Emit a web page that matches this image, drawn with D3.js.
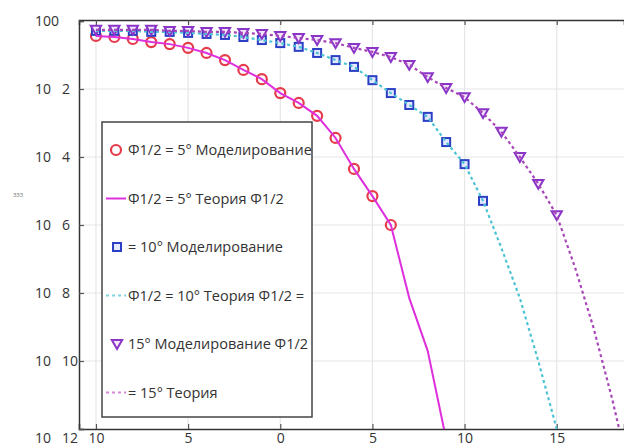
<!DOCTYPE html>
<html>
<head>
<meta charset="utf-8">
<script src="https://cdn.jsdelivr.net/npm/d3@7"></script>
<style>
  body { margin: 0; background: #fff; }
  text { font-family: "Open Sans", "Noto Sans", sans-serif; fill: #333; }
</style>
</head>
<body>
<div class="chart"></div>
<script>
// tick values and labels
const xTicks = [-10, -5, 0, 5, 10, 15];
const xTickLabels = ['10', '5', '0', '5', '10', '15'];
const yTicks = [0, -2, -4, -6, -8, -10, -12];
const yTickBase = ['100', '10', '10', '10', '10', '10', '10'];
const yTickExp = ['', '2', '4', '6', '8', '10', '12'];

// series, y given as log10 of the value
const sim5X = [-10, -9, -8, -7, -6, -5, -4, -3, -2, -1, 0, 1, 2, 3, 4, 5, 6];
const sim5Y = [-0.44, -0.47, -0.53, -0.62, -0.68, -0.79, -0.94, -1.15, -1.44, -1.71, -2.12, -2.41, -2.79, -3.44, -4.35, -5.15, -6.0];
const theory5X = [-10, -9, -8, -7, -6, -5, -4, -3, -2, -1, 0, 1, 2, 3, 4, 5, 6, 7, 8, 9];
const theory5Y = [-0.44, -0.47, -0.53, -0.62, -0.68, -0.79, -0.94, -1.15, -1.44, -1.71, -2.12, -2.41, -2.79, -3.44, -4.35, -5.15, -6.0, -8.15, -9.7, -12.3];

const sim10X = [-10, -9, -8, -7, -6, -5, -4, -3, -2, -1, 0, 1, 2, 3, 4, 5, 6, 7, 8, 9, 10, 11];
const sim10Y = [-0.29, -0.29, -0.29, -0.32, -0.32, -0.35, -0.38, -0.41, -0.47, -0.56, -0.65, -0.76, -0.94, -1.15, -1.35, -1.74, -2.12, -2.47, -2.82, -3.56, -4.21, -5.29];
const theory10X = [-10, -9, -8, -7, -6, -5, -4, -3, -2, -1, 0, 1, 2, 3, 4, 5, 6, 7, 8, 9, 10, 11, 12, 13, 14, 15];
const theory10Y = [-0.29, -0.29, -0.29, -0.32, -0.32, -0.35, -0.38, -0.41, -0.47, -0.56, -0.65, -0.76, -0.94, -1.15, -1.35, -1.74, -2.12, -2.47, -2.82, -3.56, -4.21, -5.29, -6.68, -8.15, -10.0, -12.0];

const sim15X = [-10, -9, -8, -7, -6, -5, -4, -3, -2, -1, 0, 1, 2, 3, 4, 5, 6, 7, 8, 9, 10, 11, 12, 13, 14, 15];
const sim15Y = [-0.26, -0.26, -0.26, -0.26, -0.29, -0.29, -0.32, -0.32, -0.35, -0.38, -0.44, -0.5, -0.56, -0.65, -0.79, -0.91, -1.06, -1.29, -1.65, -1.97, -2.24, -2.71, -3.26, -4.0, -4.79, -5.71];
const theory15X = [-10, -9, -8, -7, -6, -5, -4, -3, -2, -1, 0, 1, 2, 3, 4, 5, 6, 7, 8, 9, 10, 11, 12, 13, 14, 15, 16, 17, 18, 19];
const theory15Y = [-0.26, -0.26, -0.26, -0.26, -0.29, -0.29, -0.32, -0.32, -0.35, -0.38, -0.44, -0.5, -0.56, -0.65, -0.79, -0.91, -1.06, -1.29, -1.65, -1.97, -2.24, -2.71, -3.26, -4.0, -4.79, -5.71, -7.26, -9.03, -11.1, -13.4];

const legendLabels = [
  'Ф1/2 = 5° Моделирование',
  'Ф1/2 = 5° Теория Ф1/2',
  '= 10° Моделирование',
  'Ф1/2 = 10° Теория Ф1/2 =',
  '15° Моделирование Ф1/2',
  '= 15° Теория'
];

const zip = (xs, ys) => xs.map((x, i) => ({x: x, y: ys[i]}));

const width = 624, height = 448;
const plot = {left: 79, right: 624, top: 21, bottom: 429};

const svg = d3.select('.chart').append('svg')
  .attr('width', width)
  .attr('height', height);

const xScale = d3.scaleLinear()
  .domain([-10.92, 18.65])
  .range([plot.left, plot.right]);

const yScale = d3.scaleLog()
  .domain([1e-12, 1])
  .range([plot.bottom, plot.top]);
const yPos = e => yScale(Math.pow(10, e));

svg.append('clipPath').attr('id', 'clip')
  .append('rect')
  .attr('x', plot.left).attr('y', plot.top)
  .attr('width', plot.right - plot.left).attr('height', plot.bottom - plot.top);

//grid
svg.append('g').selectAll('line')
  .data(xTicks)
  .enter().append('line')
  .attr('x1', d => xScale(d)).attr('x2', d => xScale(d))
  .attr('y1', plot.top).attr('y2', plot.bottom)
  .attr('stroke', '#e6e6e6').attr('stroke-width', 1.2);
svg.append('g').selectAll('line')
  .data(yTicks.slice(1, -1))
  .enter().append('line')
  .attr('x1', plot.left).attr('x2', plot.right)
  .attr('y1', d => yPos(d)).attr('y2', d => yPos(d))
  .attr('stroke', '#e6e6e6').attr('stroke-width', 1.2);

//axes
const xAxisB = d3.axisBottom(xScale).tickValues(xTicks).tickSize(-5).tickFormat((d, i) => xTickLabels[i]).tickPadding(4);
const xAxisT = d3.axisTop(xScale).tickValues(xTicks).tickSize(-5).tickFormat('');
const yAxisL = d3.axisLeft(yScale).tickValues(yTicks.map(e => Math.pow(10, e))).tickSize(-5).tickFormat('');

const gB = svg.append('g').attr('transform', `translate(0,${plot.bottom})`).call(xAxisB);
const gT = svg.append('g').attr('transform', `translate(0,${plot.top - 1})`).call(xAxisT);
const gL = svg.append('g').attr('transform', `translate(${plot.left},0)`).call(yAxisL);
[gB, gT, gL].forEach(g => {
  g.select('.domain').attr('stroke', '#333').attr('stroke-width', 1.5);
  g.selectAll('.tick line').attr('stroke', '#555').attr('stroke-width', 1.2);
  g.selectAll('.tick text').attr('font-size', 14).attr('fill', '#333')
    .style('font-family', '"Open Sans", sans-serif');
});

//y tick labels
const yLab = svg.append('g').selectAll('text')
  .data(yTicks)
  .enter().append('text')
  .attr('y', (d, i) => yPos(d) + (i === yTicks.length - 1 ? 9 : 0))
  .attr('dy', '0.35em')
  .attr('font-size', 14);
yLab.append('tspan').attr('x', 35).text((d, i) => yTickBase[i]);
yLab.append('tspan').attr('x', 62).text((d, i) => yTickExp[i]);

svg.append('text')
  .attr('x', 18).attr('y', 197)
  .attr('text-anchor', 'middle')
  .attr('font-size', 7)
  .style('fill', '#888')
  .text('ззз');

//series
const plotArea = svg.append('g').attr('clip-path', 'url(#clip)');
const lineGen = d3.line().x(d => xScale(d.x)).y(d => yPos(d.y));

const tri = d3.symbol().type(d3.symbolTriangle).size(46);

// markers
plotArea.selectAll('.circ')
  .data(zip(sim5X, sim5Y))
  .enter().append('circle')
  .attr('cx', d => xScale(d.x)).attr('cy', d => yPos(d.y))
  .attr('r', 5)
  .attr('fill', 'none').attr('stroke', '#e63b4a').attr('stroke-width', 2.2);

plotArea.selectAll('.sq')
  .data(zip(sim10X, sim10Y))
  .enter().append('rect')
  .attr('x', d => xScale(d.x) - 4).attr('y', d => yPos(d.y) - 4)
  .attr('width', 8).attr('height', 8)
  .attr('fill', '#e4e9ff').attr('stroke', '#2b3fc4').attr('stroke-width', 2);

plotArea.selectAll('.tri')
  .data(zip(sim15X, sim15Y))
  .enter().append('path')
  .attr('d', tri)
  .attr('transform', d => `translate(${xScale(d.x)},${yPos(d.y) - 1}) rotate(180)`)
  .attr('fill', '#f1e6fa').attr('stroke', '#8a35c8').attr('stroke-width', 2);

// theory lines
plotArea.append('path')
  .datum(zip(theory5X, theory5Y))
  .attr('d', lineGen)
  .attr('fill', 'none').attr('stroke', '#de2fdc').attr('stroke-width', 2);

plotArea.append('path')
  .datum(zip(theory10X, theory10Y))
  .attr('d', lineGen)
  .attr('fill', 'none').attr('stroke', '#4cc3d3').attr('stroke-width', 2.2)
  .attr('stroke-dasharray', '3,3');

plotArea.append('path')
  .datum(zip(theory15X, theory15Y))
  .attr('d', lineGen)
  .attr('fill', 'none').attr('stroke', '#a845b8').attr('stroke-width', 2.2)
  .attr('stroke-dasharray', '3,3');

//legend
const legend = svg.append('g').attr('class', 'legend');
legend.append('rect')
  .attr('x', 102).attr('y', 122)
  .attr('width', 210).attr('height', 295)
  .attr('fill', '#fff').attr('stroke', '#444').attr('stroke-width', 1.5);

const ly = i => 150 + i * 48.5;

legend.append('circle')
  .attr('cx', 116).attr('cy', ly(0)).attr('r', 5)
  .attr('fill', 'none').attr('stroke', '#e63b4a').attr('stroke-width', 2.2);
legend.append('line')
  .attr('x1', 106).attr('x2', 126).attr('y1', ly(1)).attr('y2', ly(1))
  .attr('stroke', '#de2fdc').attr('stroke-width', 2);
legend.append('rect')
  .attr('x', 113).attr('y', ly(2) - 4).attr('width', 8).attr('height', 8)
  .attr('fill', '#e4e9ff').attr('stroke', '#2b3fc4').attr('stroke-width', 2);
legend.append('line')
  .attr('x1', 106).attr('x2', 126).attr('y1', ly(3)).attr('y2', ly(3))
  .attr('stroke', '#7fd6e0').attr('stroke-width', 2).attr('stroke-dasharray', '3,3');
legend.append('path')
  .attr('d', tri())
  .attr('transform', `translate(117,${ly(4) - 1}) rotate(180)`)
  .attr('fill', '#f1e6fa').attr('stroke', '#8a35c8').attr('stroke-width', 2);
legend.append('line')
  .attr('x1', 106).attr('x2', 126).attr('y1', ly(5)).attr('y2', ly(5))
  .attr('stroke', '#d487d4').attr('stroke-width', 2).attr('stroke-dasharray', '3,3');

legend.selectAll('.legendText')
  .data(legendLabels)
  .enter().append('text')
  .attr('x', 128)
  .attr('y', (d, i) => ly(i))
  .attr('dy', '0.35em')
  .attr('font-size', 14.5)
  .text(d => d);
</script>
</body>
</html>
